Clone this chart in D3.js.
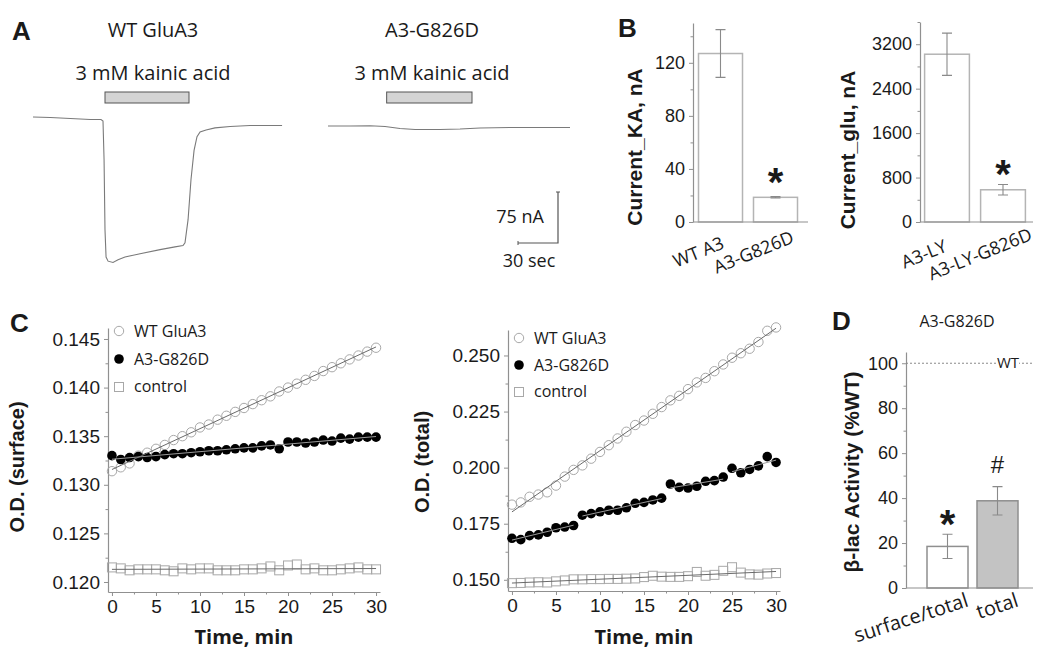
<!DOCTYPE html>
<html><head><meta charset="utf-8">
<script src="https://cdn.jsdelivr.net/npm/d3@7"></script>
<style>body{margin:0;background:#fff}svg{display:block}</style>
</head><body>
<svg id="c" width="1050" height="661"></svg>
<script>
// ================= DATA =================
// Panel A: current traces (seconds, nA)
const traceWTTime = [0, 13, 28, 43, 51, 52.5, 53.3, 54, 54.8, 56.3, 60, 63.8, 69, 80.3, 95.3, 106.5, 112.5, 114, 116.3, 118.5, 120.8, 123, 125.3, 129.8, 136.5, 147.8, 162.8, 186.8];
const traceWTCurrent = [0, -0.7, -2.2, -3.7, -3.7, -5.9, -63, -166, -206, -212, -214, -210, -206, -201, -195, -191, -189, -185, -151, -92, -49, -29, -22, -19, -16, -14, -12.5, -12.5];
const traceMutTime = [0, 16.5, 31.5, 42.8, 54, 65.3, 84, 99, 114, 136.5, 159, 181.5];
const traceMutCurrent = [0, 0, 0.3, -0.7, -3.7, -5.1, -5.1, -4.4, -2.9, -2.2, -2.2, -2.2];
const applyWT = [54, 117];
const applyMut = [44, 108];
const scaleBarSec = 30, scaleBarNA = 75;
const traceTitles = ["WT GluA3", "A3-G826D"];
const applyLabel = "3 mM kainic acid";

// Panel B
const kaCats = ["WT A3", "A3-G826D"];
const kaMeans = [127, 18.6];
const kaErr = [18, 0.5];
const kaTicks = [0, 40, 80, 120];
const kaMinor = [20, 60, 100, 140];
const gluCats = ["A3-LY", "A3-LY-G826D"];
const gluMeans = [3020, 580];
const gluErr = [380, 95];
const gluTicks = [0, 800, 1600, 2400, 3200];
const gluMinor = [400, 1200, 2000, 2800, 3600];

// Panel C
const timeMin = [0,1,2,3,4,5,6,7,8,9,10,11,12,13,14,15,16,17,18,19,20,21,22,23,24,25,26,27,28,29,30];
const surfWT = [0.1314,0.1318,0.1322,0.1330,0.1333,0.1337,0.1341,0.1346,0.1350,0.1354,0.1359,0.1362,0.1367,0.1371,0.1375,0.1379,0.1383,0.1387,0.1391,0.1396,0.1400,0.1404,0.1408,0.1412,0.1417,0.1421,0.1425,0.1429,0.1433,0.1437,0.1441];
const surfMut = [0.1330,0.1326,0.1328,0.1329,0.1328,0.1329,0.1331,0.1332,0.1332,0.1333,0.1334,0.1335,0.1335,0.1336,0.1337,0.1338,0.1338,0.1340,0.1341,0.1337,0.1344,0.1344,0.1343,0.1344,0.1346,0.1345,0.1348,0.1347,0.1349,0.1349,0.1349];
const surfCtrl = [0.1215,0.1214,0.1212,0.1213,0.1213,0.1213,0.1212,0.1211,0.1214,0.1213,0.1214,0.1214,0.1212,0.1212,0.1212,0.1213,0.1213,0.1214,0.1216,0.1212,0.1217,0.1218,0.1213,0.1214,0.1212,0.1212,0.1213,0.1214,0.1215,0.1213,0.1213];
const totWT = [0.1835,0.1845,0.1870,0.1880,0.1890,0.1920,0.1960,0.1990,0.2010,0.2040,0.2070,0.2100,0.2130,0.2160,0.2190,0.2210,0.2240,0.2270,0.2300,0.2320,0.2350,0.2380,0.2400,0.2430,0.2460,0.2490,0.2510,0.2530,0.2560,0.2610,0.2625];
const totMut = [0.1685,0.1679,0.1697,0.1700,0.1712,0.1732,0.1735,0.1742,0.1788,0.1795,0.1803,0.1810,0.1810,0.1821,0.1841,0.1845,0.1856,0.1864,0.1927,0.1912,0.1909,0.1917,0.1939,0.1942,0.1958,0.1997,0.1977,0.1992,0.2008,0.2049,0.2023];
const totMutSegments = [[0,7],[8,17],[18,24],[25,30]];
const totCtrl = [0.1485,0.1486,0.1488,0.1489,0.1488,0.1493,0.1497,0.1502,0.1502,0.1503,0.1503,0.1504,0.1504,0.1505,0.1506,0.1512,0.1518,0.1514,0.1513,0.1513,0.1516,0.1535,0.1518,0.1522,0.1540,0.1556,0.1532,0.1524,0.1523,0.1528,0.1530];
const legendNames = ["WT GluA3", "A3-G826D", "control"];
const timeTicks = [0,5,10,15,20,25,30];
const timeMinor = [2.5,7.5,12.5,17.5,22.5,27.5];
const surfTicks = [0.120,0.125,0.130,0.135,0.140,0.145];
const surfMinor = [0.1225,0.1275,0.1325,0.1375,0.1425];
const totTicks = [0.150,0.175,0.200,0.225,0.250];
const totMinor = [0.1625,0.1875,0.2125,0.2375];

// Panel D
const dCats = ["surface/total", "total"];
const dMeans = [18.5, 38.8];
const dErr = [5.4, 6.3];
const dTicks = [0,20,40,60,80,100];
const dMinor = [10,30,50,70,90];
const dRef = 100;

// ================= DRAWING =================
const svg = d3.select("#c");
const SANS = "'Open Sans', sans-serif";
const ARIAL = "'Liberation Sans', Arial, sans-serif";
const AX = "#909090";
const TXT = "#1a1a1a";

function txt(x, y, s, size, opts = {}) {
  return svg.append("text").attr("x", x).attr("y", y).text(s)
    .attr("font-family", opts.family || SANS).attr("font-size", size)
    .attr("font-weight", opts.weight || "normal")
    .attr("text-anchor", opts.anchor || "start").attr("fill", opts.fill || TXT);
}
function panelLabel(x, y, s) { txt(x, y, s, 26, {family: ARIAL, weight: "bold"}); }
function rotTitle(x, y, s, size) {
  svg.append("text").attr("transform", `translate(${x},${y}) rotate(-90)`)
    .attr("text-anchor", "middle").attr("dy", "0.35em")
    .attr("font-family", ARIAL).attr("font-weight", "bold").attr("font-size", size)
    .attr("fill", TXT).text(s);
}
function styleAxis(g, size) {
  g.select(".domain").attr("stroke", AX).attr("stroke-width", 1.2);
  g.selectAll(".tick line").attr("stroke", AX);
  g.selectAll(".tick text").attr("font-family", ARIAL).attr("font-size", size).attr("fill", TXT);
  g.attr("font-family", null).attr("font-size", null);
}
function leftAxis(scale, x, major, minor, fmt, size) {
  const g = svg.append("g").attr("transform", `translate(${x},0)`)
    .call(d3.axisLeft(scale).tickValues(major).tickFormat(fmt).tickSize(4).tickSizeOuter(0).tickPadding(4));
  styleAxis(g, size);
  const gm = svg.append("g").attr("transform", `translate(${x},0)`)
    .call(d3.axisLeft(scale).tickValues(minor).tickFormat("").tickSize(2.5).tickSizeOuter(0));
  gm.select(".domain").remove();
  gm.selectAll(".tick line").attr("stroke", AX);
  return g;
}
function bottomAxis(scale, y, major, minor, size) {
  const g = svg.append("g").attr("transform", `translate(0,${y})`)
    .call(d3.axisBottom(scale).tickValues(major).tickSize(4).tickSizeOuter(0).tickPadding(4));
  styleAxis(g, size);
  const gm = svg.append("g").attr("transform", `translate(0,${y})`)
    .call(d3.axisBottom(scale).tickValues(minor).tickFormat("").tickSize(2.5).tickSizeOuter(0));
  gm.select(".domain").remove();
  gm.selectAll(".tick line").attr("stroke", AX);
}

// ---------- Panel A ----------
panelLabel(12, 40, "A");
const tS = d3.scaleLinear().domain([0, 30]).range([0, 40]);
const iS = d3.scaleLinear().domain([0, -75]).range([0, 51]);
function drawTrace(ox, oy, times, cur, app, title, cx) {
  txt(cx, 37, title, 20, {anchor: "middle"});
  txt(cx, 80, applyLabel, 20, {anchor: "middle"});
  svg.append("rect").attr("x", ox + tS(app[0])).attr("y", 92)
    .attr("width", tS(app[1]) - tS(app[0])).attr("height", 11)
    .attr("fill", "#d4d4d4").attr("stroke", "#555").attr("stroke-width", 1);
  const line = d3.line().x((d, i) => ox + tS(times[i])).y((d, i) => oy + iS(cur[i]));
  svg.append("path").datum(times).attr("d", line)
    .attr("fill", "none").attr("stroke", "#7a7a7a").attr("stroke-width", 1.1);
}
drawTrace(33, 117, traceWTTime, traceWTCurrent, applyWT, traceTitles[0], 153);
drawTrace(328, 126, traceMutTime, traceMutCurrent, applyMut, traceTitles[1], 432);
// scale bar
{
  const cx = 558, cy = 243;
  svg.append("path").attr("d", `M${cx - tS(scaleBarSec)},${cy}H${cx}V${cy - iS(-scaleBarNA)}`)
    .attr("fill", "none").attr("stroke", "#555").attr("stroke-width", 1.2);
  svg.append("path").attr("d", `M${cx - tS(scaleBarSec)},${cy-2}v4M${cx-2},${cy - iS(-scaleBarNA)}h4`)
    .attr("stroke", "#555").attr("stroke-width", 1);
  txt(544, 223, scaleBarNA + " nA", 18, {anchor: "end"});
  txt(529, 267, scaleBarSec + " sec", 18, {anchor: "middle"});
}

// ---------- Panel B ----------
panelLabel(618, 37, "B");
function barPanel(cfg) {
  const y = d3.scaleLinear().domain(cfg.domain).range(cfg.yRange);
  const x = d3.scaleBand().domain(cfg.cats).range(cfg.xRange).paddingInner(cfg.pi).paddingOuter(cfg.po);
  const y0 = cfg.yRange[0];
  svg.selectAll(null).data(cfg.cats).enter().append("rect")
    .attr("x", d => x(d)).attr("width", x.bandwidth())
    .attr("y", (d, i) => y(cfg.means[i])).attr("height", (d, i) => y0 - y(cfg.means[i]))
    .attr("fill", (d, i) => cfg.fills[i]).attr("stroke", (d, i) => cfg.strokes[i]).attr("stroke-width", 1.5);
  cfg.cats.forEach((c, i) => {
    const cx = x(c) + x.bandwidth() / 2;
    const t = y(cfg.means[i] + cfg.err[i]), b = y(cfg.means[i] - cfg.err[i]);
    svg.append("path").attr("d", `M${cx},${t}V${b}M${cx - 5},${t}h10M${cx - 5},${b}h10`)
      .attr("stroke", "#8a8a8a").attr("stroke-width", 1.1).attr("fill", "none");
  });
  leftAxis(y, cfg.axisX, cfg.ticks, cfg.minor, cfg.fmt, cfg.tickSize);
  svg.append("line").attr("x1", cfg.axisX).attr("x2", cfg.xEnd).attr("y1", y0).attr("y2", y0)
    .attr("stroke", AX).attr("stroke-width", 1.2);
  return {x, y};
}
{
  const p = barPanel({cats: kaCats, means: kaMeans, err: kaErr, domain: [0, 150], yRange: [222, 23],
    xRange: [693, 803], pi: 0.2, po: 0.1, axisX: 693, xEnd: 808, ticks: kaTicks, minor: kaMinor,
    fmt: d3.format("d"), tickSize: 18, fills: ["#fff", "#fff"], strokes: ["#b4b4b4", "#b4b4b4"]});
  kaCats.forEach((c, i) => {
    const cx = p.x(c) + p.x.bandwidth() / 2;
    svg.append("text").attr("transform", `translate(${cx - 22},252) rotate(-22)`)
      .attr("text-anchor", "middle").attr("dy", "0.35em").attr("font-family", SANS)
      .attr("font-size", 18).attr("fill", TXT).text(c);
  });
  const cx2 = p.x(kaCats[1]) + p.x.bandwidth() / 2;
  txt(cx2, 196, "*", 40, {family: ARIAL, weight: "bold", anchor: "middle"});
  rotTitle(635, 147, "Current_KA, nA", 21);
}
{
  const p = barPanel({cats: gluCats, means: gluMeans, err: gluErr, domain: [0, 3600], yRange: [222, 22],
    xRange: [919, 1031], pi: 0.2, po: 0.1, axisX: 920, xEnd: 1033, ticks: gluTicks, minor: gluMinor,
    fmt: d3.format("d"), tickSize: 18, fills: ["#fff", "#fff"], strokes: ["#b4b4b4", "#b4b4b4"]});
  gluCats.forEach((c, i) => {
    const cx = p.x(c) + p.x.bandwidth() / 2;
    svg.append("text").attr("transform", `translate(${cx - 23},254) rotate(-22)`)
      .attr("text-anchor", "middle").attr("dy", "0.35em").attr("font-family", SANS)
      .attr("font-size", 18).attr("fill", TXT).text(c);
  });
  const cx2 = p.x(gluCats[1]) + p.x.bandwidth() / 2;
  txt(cx2, 188, "*", 40, {family: ARIAL, weight: "bold", anchor: "middle"});
  rotTitle(848, 150, "Current_glu, nA", 21);
}

// ---------- Panel C ----------
panelLabel(10, 332, "C");
function linfit(xs, ys) {
  const mx = d3.mean(xs), my = d3.mean(ys);
  let sxy = 0, sxx = 0;
  xs.forEach((v, i) => { sxy += (v - mx) * (ys[i] - my); sxx += (v - mx) * (v - mx); });
  const b = sxy / sxx;
  return [b, my - b * mx];
}
function fitLine(x, y, xs, ys, col) {
  const [b, a] = linfit(xs, ys);
  const x0 = xs[0], x1 = xs[xs.length - 1];
  svg.append("line").attr("x1", x(x0)).attr("x2", x(x1)).attr("y1", y(a + b * x0)).attr("y2", y(a + b * x1))
    .attr("stroke", col || "#6a6a6a").attr("stroke-width", 1);
}
function drawSquares(x, y, ys) {
  svg.selectAll(null).data(ys).enter().append("rect")
    .attr("x", (d, i) => x(timeMin[i]) - 4.5).attr("y", d => y(d) - 4.5)
    .attr("width", 9).attr("height", 9).attr("fill", "none").attr("stroke", "#a8a8a8").attr("stroke-width", 1);
}
function drawOpen(x, y, ys) {
  svg.selectAll(null).data(ys).enter().append("circle")
    .attr("cx", (d, i) => x(timeMin[i])).attr("cy", d => y(d)).attr("r", 4.7)
    .attr("fill", "none").attr("stroke", "#a8a8a8").attr("stroke-width", 1);
}
function drawFilled(x, y, ys) {
  svg.selectAll(null).data(ys).enter().append("circle")
    .attr("cx", (d, i) => x(timeMin[i])).attr("cy", d => y(d)).attr("r", 4.8).attr("fill", "#000");
}
function legend(lx, tx, ys) {
  svg.append("circle").attr("cx", lx).attr("cy", ys[0]).attr("r", 4.7).attr("fill", "none").attr("stroke", "#a8a8a8");
  svg.append("circle").attr("cx", lx).attr("cy", ys[1]).attr("r", 4.8).attr("fill", "#000");
  svg.append("rect").attr("x", lx - 4.5).attr("y", ys[2] - 3.5).attr("width", 9).attr("height", 9)
    .attr("fill", "none").attr("stroke", "#a8a8a8");
  legendNames.forEach((n, i) => txt(tx, ys[i], n, 16).attr("dy", "0.35em"));
}
function cPanel(cfg) {
  const x = d3.scaleLinear().domain([-0.45, 30.45]).range(cfg.xRange);
  const y = d3.scaleLinear().domain(cfg.yDomain).range(cfg.yRange);
  leftAxis(y, cfg.xRange[0], cfg.yTicks, cfg.yMinor, d3.format(".3f"), 19);
  bottomAxis(x, cfg.yRange[0], timeTicks, timeMinor, 19);
  drawSquares(x, y, cfg.ctrl);
  drawOpen(x, y, cfg.wt);
  drawFilled(x, y, cfg.mut);
  fitLine(x, y, timeMin, cfg.ctrl);
  fitLine(x, y, timeMin, cfg.wt);
  cfg.segs.forEach(([s, e]) => fitLine(x, y, timeMin.slice(s, e + 1), cfg.mut.slice(s, e + 1), "#9a9a9a"));
  legend(cfg.legX, cfg.legX + 15, cfg.legY);
  rotTitle(cfg.titleX, cfg.titleY, cfg.title, 20);
  txt((cfg.xRange[0] + cfg.xRange[1]) / 2, 644, "Time, min", 20, {weight: "bold", anchor: "middle"});
}
cPanel({xRange: [108, 380], yDomain: [0.11897, 0.14613], yRange: [592, 328], yTicks: surfTicks, yMinor: surfMinor,
  wt: surfWT, mut: surfMut, ctrl: surfCtrl, segs: [[0, 30]], legX: 119, legY: [331, 359, 386],
  title: "O.D. (surface)", titleX: 17, titleY: 467});
cPanel({xRange: [508, 780], yDomain: [0.145, 0.26136], yRange: [591, 330], yTicks: totTicks, yMinor: totMinor,
  wt: totWT, mut: totMut, ctrl: totCtrl, segs: totMutSegments, legX: 519, legY: [338, 365, 391],
  title: "O.D. (total)", titleX: 422, titleY: 462});

// ---------- Panel D ----------
panelLabel(832, 330, "D");
txt(957, 327, "A3-G826D", 16, {anchor: "middle"});
{
  const p = barPanel({cats: dCats, means: dMeans, err: dErr, domain: [0, 105], yRange: [588, 352],
    xRange: [907, 1038], pi: 0.18, po: 0.4, axisX: 906, xEnd: 1033, ticks: dTicks, minor: dMinor,
    fmt: d3.format("d"), tickSize: 18, fills: ["#fff", "#c3c3c3"], strokes: ["#8f8f8f", "#8f8f8f"]});
  const yr = p.y(dRef);
  svg.append("line").attr("x1", 906).attr("x2", 1033).attr("y1", yr).attr("y2", yr)
    .attr("stroke", "#8a8a8a").attr("stroke-dasharray", "2,2").attr("stroke-width", 1);
  svg.append("rect").attr("x", 997).attr("y", yr - 5).attr("width", 22).attr("height", 10).attr("fill", "#fff");
  txt(1008, yr, "WT", 15, {anchor: "middle"}).attr("dy", "0.35em");
  dCats.forEach((c, i) => {
    const cx = p.x(c) + p.x.bandwidth() / 2;
    svg.append("text").attr("transform", `translate(${cx + 22},606) rotate(-18)`)
      .attr("text-anchor", "end").attr("font-family", SANS)
      .attr("font-size", 20).attr("fill", TXT).text(c);
  });
  const c0 = p.x(dCats[0]) + p.x.bandwidth() / 2;
  const c1 = p.x(dCats[1]) + p.x.bandwidth() / 2;
  txt(c0, 538, "*", 40, {family: ARIAL, weight: "bold", anchor: "middle"});
  txt(c1, 473, "#", 24, {family: ARIAL, anchor: "middle"});
  rotTitle(852, 472, "β-lac Activity (%WT)", 21);
}
</script>
</body></html>
